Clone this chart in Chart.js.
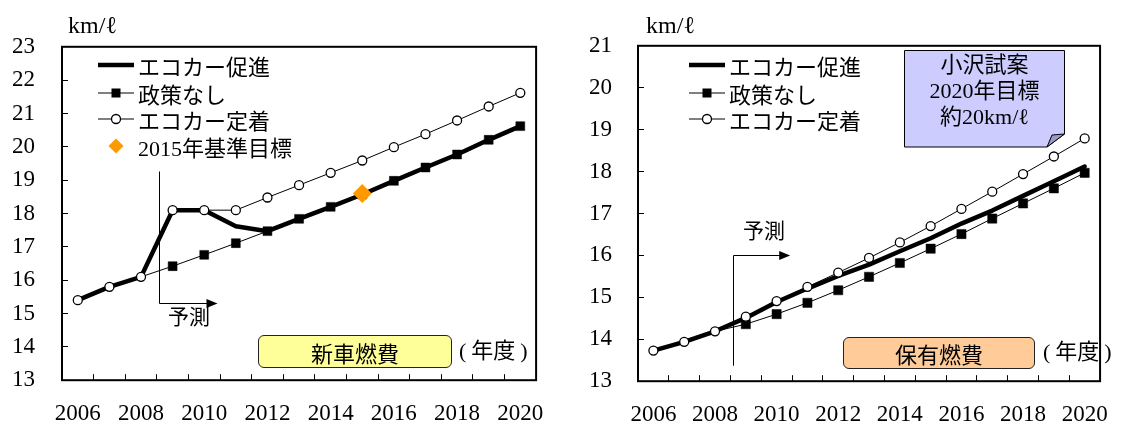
<!DOCTYPE html>
<html><head><meta charset="utf-8">
<script src="https://cdn.jsdelivr.net/npm/chart.js@4.4.0/dist/chart.umd.min.js"></script>
<style>
body{margin:0;width:1134px;height:427px;background:#fff;position:relative;overflow:hidden;font-family:'Liberation Serif','Noto Sans CJK JP',serif;color:#000;}
canvas{position:absolute;top:0;}
#c1{left:0;}
#c2{left:570px;}
.t{position:absolute;white-space:nowrap;line-height:1;}
.leg{position:absolute;display:flex;align-items:center;height:26px;font-size:22px;white-space:nowrap;}
.leg svg{flex:none;margin-right:2px;}
.box{position:absolute;border:1px solid #222;border-radius:6px;box-sizing:border-box;display:flex;align-items:center;justify-content:center;font-size:22px;}
.pl{margin-right:5px;}
.pr{margin-left:5px;}
</style></head>
<body>
<canvas id="c1" width="570" height="427"></canvas>
<canvas id="c2" width="564" height="427"></canvas>

<div class="t" style="left:68px;top:13px;font-size:24px;">km/ℓ</div>
<div class="t" style="left:646px;top:13px;font-size:24px;">km/ℓ</div>

<!-- left legend -->
<div class="leg" style="left:96px;top:52px;"><svg width="40" height="26"><line x1="2" y1="13" x2="38" y2="13" stroke="#000" stroke-width="4.5"/></svg>エコカー促進</div>
<div class="leg" style="left:96px;top:79.5px;"><svg width="40" height="26"><line x1="2" y1="13" x2="38" y2="13" stroke="#000" stroke-width="1"/><rect x="15.5" y="8.5" width="9" height="9" fill="#000"/></svg>政策なし</div>
<div class="leg" style="left:96px;top:106px;"><svg width="40" height="26"><line x1="2" y1="13" x2="38" y2="13" stroke="#000" stroke-width="1"/><circle cx="20" cy="13" r="4.5" fill="#fff" stroke="#000" stroke-width="1.3"/></svg>エコカー定着</div>
<div class="leg" style="left:96px;top:132.5px;"><svg width="40" height="26"><polygon points="20,5.5 27.5,13 20,20.5 12.5,13" fill="#FF9900"/></svg>2015年基準目標</div>

<!-- right legend -->
<div class="leg" style="left:687px;top:52px;"><svg width="40" height="26"><line x1="2" y1="13" x2="38" y2="13" stroke="#000" stroke-width="4.5"/></svg>エコカー促進</div>
<div class="leg" style="left:687px;top:79.5px;"><svg width="40" height="26"><line x1="2" y1="13" x2="38" y2="13" stroke="#000" stroke-width="1"/><rect x="15.5" y="8.5" width="9" height="9" fill="#000"/></svg>政策なし</div>
<div class="leg" style="left:687px;top:106px;"><svg width="40" height="26"><line x1="2" y1="13" x2="38" y2="13" stroke="#000" stroke-width="1"/><circle cx="20" cy="13" r="4.5" fill="#fff" stroke="#000" stroke-width="1.3"/></svg>エコカー定着</div>

<!-- forecast labels -->
<div class="t" style="left:168px;top:307px;font-size:21px;">予測</div>
<div class="t" style="left:743px;top:221px;font-size:21px;">予測</div>

<!-- panel labels -->
<div class="box" style="left:258px;top:335px;width:194px;height:33px;background:#FFFF99;">新車燃費</div>
<div class="t" style="left:459px;top:340px;font-size:22px;"><span class="pl">(</span>年度<span class="pr">)</span></div>
<div class="box" style="left:843px;top:337px;width:192px;height:32px;background:#FFCC99;">保有燃費</div>
<div class="t" style="left:1043px;top:341px;font-size:22px;"><span class="pl">(</span>年度<span class="pr">)</span></div>

<!-- note -->
<svg style="position:absolute;left:904px;top:50px;" width="162" height="98">
  <polygon points="0.5,0.5 160.5,0.5 160.5,84 143,97 0.5,97" fill="#CCCCFF" stroke="#000" stroke-width="1"/>
  <polygon points="143,97 148,85 160.5,84" fill="#9999CC" stroke="#000" stroke-width="1"/>
</svg>
<div class="t" style="left:904px;top:52px;width:161px;text-align:center;font-size:22px;line-height:26px;">小沢試案<br>2020年目標<br>約20km/ℓ</div>

<script>
// ---------- data ----------
const years = ['2006','2007','2008','2009','2010','2011','2012','2013','2014','2015','2016','2017','2018','2019','2020'];
const xTickLabels = ['2006','2008','2010','2012','2014','2016','2018','2020'];

// 新車燃費 (left)
const newYTicks = [13,14,15,16,17,18,19,20,21,22,23];
const newEcoPromo  = [15.4,15.8,16.1,18.1,18.1,17.62,17.47,17.84,18.2,18.57,18.98,19.38,19.77,20.21,20.62];
const newNoPolicy  = [15.4,15.8,16.1,16.42,16.76,17.11,17.47,17.84,18.2,18.57,18.98,19.38,19.77,20.21,20.62];
const newEcoSettle = [15.4,15.8,16.1,18.1,18.1,18.1,18.48,18.85,19.22,19.59,19.99,20.38,20.79,21.21,21.62];
const newTarget2015 = [null,null,null,null,null,null,null,null,null,18.6,null,null,null,null,null];

// 保有燃費 (right)
const ownYTicks = [13,14,15,16,17,18,19,20,21];
const ownEcoPromo  = [13.73,13.94,14.19,14.51,14.89,15.21,15.51,15.78,16.10,16.41,16.76,17.07,17.42,17.77,18.12];
const ownNoPolicy  = [13.73,13.94,14.19,14.36,14.60,14.87,15.17,15.49,15.82,16.16,16.51,16.88,17.24,17.60,17.97];
const ownEcoSettle = [13.73,13.94,14.19,14.54,14.91,15.25,15.59,15.94,16.31,16.70,17.11,17.52,17.94,18.36,18.79];

// ---------- helpers ----------
const FONT = {family:"'Liberation Serif', 'Noto Sans CJK JP', serif", size:23};

const framePlugin = {
  id:'frame',
  afterDatasetsDraw(chart, args, opts){
    const {ctx, chartArea:a, scales:{x, y}} = chart;
    ctx.save();
    ctx.strokeStyle = '#000'; ctx.fillStyle = '#000';
    ctx.lineWidth = 2;
    ctx.strokeRect(a.left, a.top, a.right - a.left, a.bottom - a.top);
    const ar = opts.arrow;
    if (ar) {
      const px = Math.round(x.getPixelForValue(ar.x)) + 0.5;
      const tip = x.getPixelForValue(ar.xTip);
      const pyH = Math.round(y.getPixelForValue(ar.yH)) + 0.5;
      const pyE = y.getPixelForValue(ar.yEnd);
      ctx.lineWidth = 1;
      ctx.beginPath(); ctx.moveTo(px, pyE); ctx.lineTo(px, pyH); ctx.lineTo(tip - 8, pyH); ctx.stroke();
      ctx.beginPath(); ctx.moveTo(tip, pyH); ctx.lineTo(tip - 11, pyH - 4.5); ctx.lineTo(tip - 11, pyH + 4.5); ctx.closePath(); ctx.fill();
    }
    ctx.restore();
  }
};

function lineSets(promo, noPolicy, settle, sqR){
  return [
    {label:'エコカー促進', data:promo, borderColor:'#000', borderWidth:4.5, pointRadius:0, tension:0, order:3},
    {label:'政策なし', data:noPolicy, borderColor:'#000', borderWidth:1, pointStyle:'rect', tension:0,
     pointRadius:(c)=> c.dataIndex < 3 ? 0 : sqR, pointBackgroundColor:'#000', pointBorderColor:'#000', pointBorderWidth:0.5, order:2},
    {label:'エコカー定着', data:settle, borderColor:'#000', borderWidth:1, pointStyle:'circle', tension:0,
     pointRadius:4.5, pointBackgroundColor:'#fff', pointBorderColor:'#000', pointBorderWidth:1.3, order:1}
  ];
}

function makeChart(id, datasets, yTicks, arrow, yPad, axisW, padRight){
  return new Chart(document.getElementById(id), {
    type:'line',
    data:{labels:years, datasets},
    options:{
      responsive:false, animation:false, devicePixelRatio:1,
      layout:{padding:{top:42, right:padRight, bottom:0, left:0}},
      plugins:{legend:{display:false}, tooltip:{enabled:false}, frame:{arrow}},
      elements:{line:{borderCapStyle:'round', borderJoinStyle:'round'}},
      scales:{
        x:{type:'category', offset:true,
           grid:{display:true, offset:true, drawOnChartArea:false, drawTicks:true, tickLength:-6, color:'#000', lineWidth:1},
           border:{display:false},
           ticks:{autoSkip:false, maxRotation:0, minRotation:0, padding:26, color:'#000', font:FONT,
                  callback:(v,i)=> xTickLabels.includes(years[i]) ? years[i] : ''},
           afterFit:(s)=>{ s.height = 43; }},
        y:{type:'linear', min:yTicks[0], max:yTicks[yTicks.length-1],
           afterBuildTicks:(s)=>{ s.ticks = yTicks.map(v=>({value:v})); },
           grid:{display:true, drawOnChartArea:false, drawTicks:true, tickLength:-6, color:'#000', lineWidth:1},
           border:{display:false},
           ticks:{padding:yPad, color:'#000', font:FONT},
           afterFit:(s)=>{ s.width = axisW; }}
      }
    },
    plugins:[framePlugin]
  });
}

const leftSets = lineSets(newEcoPromo, newNoPolicy, newEcoSettle, 6.3);
leftSets.push({label:'2015年基準目標', data:newTarget2015, showLine:false, pointStyle:'rectRot',
  pointRadius:9.5, pointBackgroundColor:'#FF9900', pointBorderColor:'#FF9900', pointBorderWidth:0, order:0});

makeChart('c1', leftSets, newYTicks, {x:2.57, xTip:4.42, yH:15.31, yEnd:19.26}, 33, 62, 21);
makeChart('c2', lineSets(ownEcoPromo, ownNoPolicy, ownEcoSettle, 6.5), ownYTicks, {x:2.58, xTip:4.44, yH:16.02, yEnd:13.37}, 32, 68, 10);
</script>
</body></html>
